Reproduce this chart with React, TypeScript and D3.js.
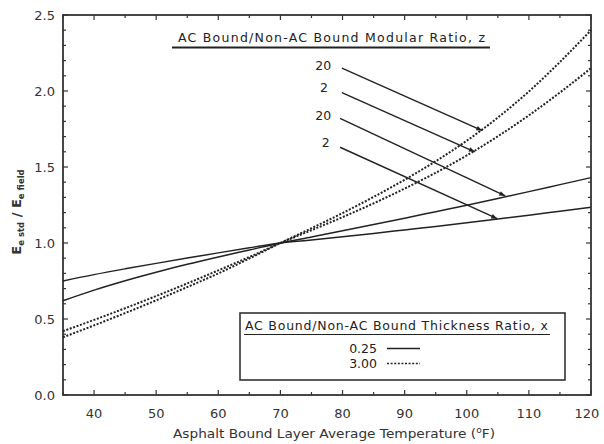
import React from "react";
import * as d3 from "d3";

const temps = [35, 40, 45, 50, 55, 60, 65, 70, 75, 80, 85, 90, 95, 100, 105, 110, 115, 120];
const solidZ20 = [0.62, 0.69, 0.752, 0.808, 0.86, 0.908, 0.954, 1.0, 1.04, 1.08, 1.121, 1.163, 1.206, 1.249, 1.293, 1.338, 1.384, 1.43];
const solidZ2 = [0.75, 0.792, 0.83, 0.866, 0.901, 0.935, 0.968, 1.0, 1.02, 1.041, 1.063, 1.086, 1.109, 1.133, 1.158, 1.183, 1.209, 1.235];
const dashedZ20 = [0.38, 0.458, 0.539, 0.623, 0.71, 0.8, 0.898, 1.0, 1.097, 1.197, 1.303, 1.416, 1.538, 1.673, 1.825, 1.997, 2.191, 2.4];
const dashedZ2 = [0.42, 0.494, 0.571, 0.651, 0.734, 0.82, 0.908, 1.0, 1.084, 1.17, 1.261, 1.358, 1.462, 1.576, 1.702, 1.84, 1.99, 2.15];

const xTicks = [40, 50, 60, 70, 80, 90, 100, 110, 120];
const yTicks = [0.0, 0.5, 1.0, 1.5, 2.0, 2.5];

// z annotations: label, label position, arrow start, arrow end (data coords)
const zLabels = ["20", "2", "20", "2"];
const zLabelT = [76.9, 77.0, 76.9, 77.3];
const zLabelV = [2.17, 2.02, 1.84, 1.66];
const arrowT0 = [79.9, 79.9, 79.6, 79.6];
const arrowV0 = [2.15, 1.99, 1.82, 1.63];
const arrowT1 = [102.5, 101.3, 106.2, 104.9];
const arrowV1 = [1.74, 1.6, 1.31, 1.16];

const legendLabels = ["0.25", "3.00"];

const W = 604, H = 444;
const x = d3.scaleLinear().domain([35, 120]).range([63, 591]);
const y = d3.scaleLinear().domain([0, 2.5]).range([395, 15]);

const FONT = "'DejaVu Sans', Verdana, sans-serif";

export default function App() {
  const line = d3
    .line<number>()
    .x((_, i) => x(temps[i]))
    .y((d) => y(d))
    .curve(d3.curveMonotoneX);

  const series = [
    { v: solidZ20, dash: null },
    { v: solidZ2, dash: null },
    { v: dashedZ20, dash: "2,1.6" },
    { v: dashedZ2, dash: "2,1.6" },
  ];

  const xMinor = d3.range(35, 121, 5);
  const yMinor = d3.range(0, 2.51, 0.1);
  const [x0, x1] = x.range();
  const [y0, y1] = y.range();

  return (
    <svg width={W} height={H} style={{ position: "absolute", left: 0, top: 0, background: "#fff" }} fontFamily={FONT}>
      <defs>
        <marker id="ah" viewBox="0 0 10 10" refX="10" refY="5" markerWidth="9" markerHeight="6" orient="auto" markerUnits="userSpaceOnUse">
          <path d="M0,1 L10,5 L0,9 z" fill="#222" />
        </marker>
      </defs>
      {/* ticks */}
      {xMinor.map((t) => {
        const major = t % 10 === 0;
        const len = major ? 5 : 3;
        return (
          <g key={"xt" + t} stroke="#333" strokeWidth={1.2}>
            <line x1={x(t)} x2={x(t)} y1={y0} y2={y0 - len} />
            <line x1={x(t)} x2={x(t)} y1={y1} y2={y1 + len} />
          </g>
        );
      })}
      {yMinor.map((v, i) => {
        const major = i % 5 === 0;
        const len = major ? 5 : 3;
        return (
          <g key={"yt" + i} stroke="#333" strokeWidth={1.2}>
            <line x1={x0} x2={x0 + len} y1={y(v)} y2={y(v)} />
            <line x1={x1} x2={x1 - len} y1={y(v)} y2={y(v)} />
          </g>
        );
      })}
      {/* frame */}
      <rect x={x0} y={y1} width={x1 - x0} height={y0 - y1} fill="none" stroke="#333" strokeWidth={1.8} />
      {/* tick labels */}
      {xTicks.map((t) => (
        <text key={"xl" + t} x={x(t) - (t === 120 ? 4 : 0)} y={418} textAnchor="middle" fontSize={13} fill="#333">
          {t}
        </text>
      ))}
      {yTicks.map((v) => (
        <text key={"yl" + v} x={55} y={y(v) + 5} textAnchor="end" fontSize={13} fill="#333">
          {v.toFixed(1)}
        </text>
      ))}
      {/* axis titles */}
      <text x={334} y={438} textAnchor="middle" fontSize={12} fill="#333" textLength={322} lengthAdjust="spacingAndGlyphs">
        Asphalt Bound Layer Average Temperature (
        <tspan dy={-5} fontSize={8}>o</tspan>
        <tspan dy={5}>F)</tspan>
      </text>
      <g transform="translate(21,212) rotate(-90)">
        <text textAnchor="middle" fontSize={13} fontWeight="bold" fill="#333">
          E<tspan fontSize={8.5} dy={3}>e std</tspan>
          <tspan dy={-3}>  /  E</tspan>
          <tspan fontSize={8.5} dy={3}>e field</tspan>
        </text>
      </g>
      {/* curves */}
      {series.map((s, i) => (
        <path
          key={"s" + i}
          d={line(s.v) || ""}
          fill="none"
          stroke="#222"
          strokeWidth={s.dash ? 2 : 1.5}
          strokeDasharray={s.dash || undefined}
        />
      ))}
      {/* modular ratio title */}
      <text x={178} y={42} fontSize={12.5} fill="#222" textLength={307} lengthAdjust="spacing">
        AC Bound/Non-AC Bound Modular Ratio, z
      </text>
      <line x1={172} x2={490} y1={47.5} y2={47.5} stroke="#222" strokeWidth={1.8} />
      {zLabels.map((lab, i) => (
        <g key={"z" + i}>
          <text x={x(zLabelT[i])} y={y(zLabelV[i]) + 4.5} textAnchor="middle" fontSize={12.5} fill="#222">
            {lab}
          </text>
          <line
            x1={x(arrowT0[i])}
            y1={y(arrowV0[i])}
            x2={x(arrowT1[i])}
            y2={y(arrowV1[i])}
            stroke="#222"
            strokeWidth={1.4}
            markerEnd="url(#ah)"
          />
        </g>
      ))}
      {/* legend */}
      <rect x={240} y={313} width={325} height={67} fill="#fff" stroke="#333" strokeWidth={1.6} />
      <text x={245} y={330} fontSize={12.5} fill="#222" textLength={303} lengthAdjust="spacing">
        AC Bound/Non-AC Bound Thickness Ratio, x
      </text>
      <line x1={244} x2={550} y1={334.5} y2={334.5} stroke="#222" strokeWidth={1.2} />
      {legendLabels.map((lab, i) => (
        <g key={"lg" + i}>
          <text x={377} y={353 + i * 15} textAnchor="end" fontSize={12.5} fill="#222">
            {lab}
          </text>
          <line
            x1={387}
            x2={420}
            y1={348.5 + i * 15}
            y2={348.5 + i * 15}
            stroke="#222"
            strokeWidth={i === 0 ? 1.3 : 1.6}
            strokeDasharray={i === 0 ? undefined : "2,1.6"}
          />
        </g>
      ))}
    </svg>
  );
}
